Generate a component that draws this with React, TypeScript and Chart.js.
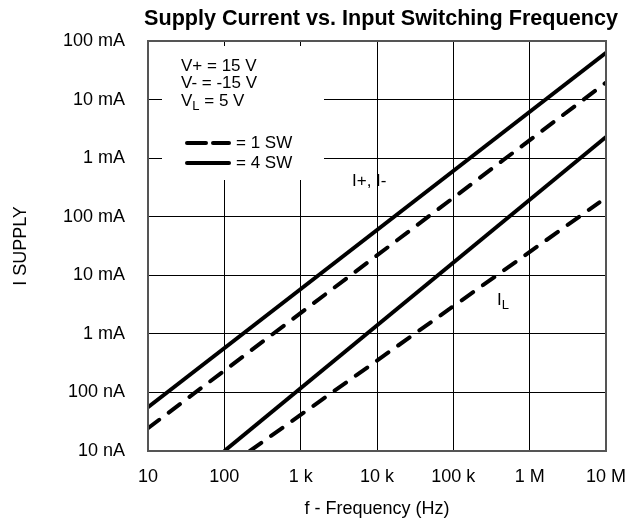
import React, { useEffect, useRef } from 'react';
import { Chart, registerables } from 'chart.js';

Chart.register(...registerables);

const FONT = '"Liberation Sans", Arial, Helvetica, sans-serif';

const chartTitle = 'Supply Current vs. Input Switching Frequency';
const xAxisTitle = 'f - Frequency (Hz)';
const yAxisTitle = 'I SUPPLY';

const freqTicks = [10, 100, 1e3, 1e4, 1e5, 1e6, 1e7];
const freqLabels = ['10', '100', '1 k', '10 k', '100 k', '1 M', '10 M'];
const currentTicks = [1e-8, 1e-7, 1e-6, 1e-5, 1e-4, 1e-3, 1e-2, 1e-1];
const currentLabels = ['10 nA', '100 nA', '1 mA', '10 mA', '100 mA', '1 mA', '10 mA', '100 mA'];

// I+, I- supply current, 4 switches (solid)
const supply4SWFreq = [10, 1e7];
const supply4SWCurrent = [5.6e-8, 6.3e-2];
// I+, I- supply current, 1 switch (dashed)
const supply1SWFreq = [10, 1e7];
const supply1SWCurrent = [2.45e-8, 1.95e-2];
// IL logic current, 4 switches (solid)
const logic4SWFreq = [100, 1e7];
const logic4SWCurrent = [1e-8, 2.3e-3];
// IL logic current, 1 switch (dashed)
const logic1SWFreq = [216, 8.2e6];
const logic1SWCurrent = [1e-8, 1.76e-4];

const legendConditions = ['V+ = 15 V', 'V- = -15 V'];
const legendDashed = '= 1 SW';
const legendSolid = '= 4 SW';
const supplyLabel = 'I+, I-';

const toPoints = (xs: number[], ys: number[]) => xs.map((x, i) => ({ x, y: ys[i] }));

const labelFor = (v: number, ticks: number[], labels: string[]) => {
  const i = ticks.findIndex((t) => Math.abs(Math.log10(t) - Math.log10(v)) < 1e-6);
  return i >= 0 ? labels[i] : '';
};

const annotations = {
  id: 'annotations',
  beforeDatasetsDraw(chart: any) {
    const { ctx } = chart;
    ctx.save();
    ctx.fillStyle = '#fff';
    ctx.fillRect(162, 46, 162, 134);
    ctx.restore();
  },
  afterDraw(chart: any) {
    const { ctx, chartArea } = chart;
    ctx.save();
    // frame
    ctx.strokeStyle = '#555';
    ctx.lineWidth = 2;
    ctx.strokeRect(chartArea.left, chartArea.top, chartArea.right - chartArea.left, chartArea.bottom - chartArea.top);

    // title
    ctx.fillStyle = '#000';
    ctx.font = `bold 21.6px ${FONT}`;
    ctx.textAlign = 'center';
    ctx.textBaseline = 'middle';
    ctx.fillText(chartTitle, 381, 19);

    // legend text
    ctx.font = `17px ${FONT}`;
    ctx.textAlign = 'left';
    ctx.fillText(legendConditions[0], 181, 66);
    ctx.fillText(legendConditions[1], 181, 83);
    ctx.fillText('V', 181, 101);
    const vw = ctx.measureText('V').width;
    ctx.font = `13px ${FONT}`;
    ctx.fillText('L', 181 + vw, 106);
    const lw = ctx.measureText('L').width;
    ctx.font = `17px ${FONT}`;
    ctx.fillText(' = 5 V', 181 + vw + lw, 101);

    // legend lines
    ctx.strokeStyle = '#000';
    ctx.lineWidth = 4;
    ctx.lineCap = 'round';
    ctx.beginPath();
    ctx.moveTo(187, 143);
    ctx.lineTo(206, 143);
    ctx.moveTo(213, 143);
    ctx.lineTo(229, 143);
    ctx.stroke();
    ctx.beginPath();
    ctx.moveTo(187, 163);
    ctx.lineTo(229, 163);
    ctx.stroke();
    ctx.fillText(legendDashed, 236, 143);
    ctx.fillText(legendSolid, 236, 163);

    // curve labels
    ctx.fillText(supplyLabel, 352, 181);
    ctx.fillText('I', 497, 300);
    const iw = ctx.measureText('I').width;
    ctx.font = `13px ${FONT}`;
    ctx.fillText('L', 497 + iw, 305);
    ctx.restore();
  },
};

export default function App() {
  const ref = useRef<HTMLCanvasElement | null>(null);
  useEffect(() => {
    if (!ref.current) return;
    const common = {
      showLine: true,
      pointRadius: 0,
      borderColor: '#000',
      backgroundColor: '#000',
      borderWidth: 4,
      fill: false,
      clip: 0,
      tension: 0,
    };
    const chart = new Chart(ref.current, {
      type: 'line',
      data: {
        datasets: [
          { ...common, label: 'I+ 4 SW', data: toPoints(supply4SWFreq, supply4SWCurrent) },
          { ...common, label: 'I+ 1 SW', data: toPoints(supply1SWFreq, supply1SWCurrent), borderDash: [14, 12], borderCapStyle: 'round' },
          { ...common, label: 'IL 4 SW', data: toPoints(logic4SWFreq, logic4SWCurrent) },
          { ...common, label: 'IL 1 SW', data: toPoints(logic1SWFreq, logic1SWCurrent), borderDash: [14, 12], borderCapStyle: 'round' },
        ] as any,
      },
      options: {
        animation: false,
        responsive: false,
        events: [],
        layout: { padding: { top: 41, right: 19, left: 0, bottom: 0 } },
        plugins: {
          legend: { display: false },
          tooltip: { enabled: false },
          title: { display: false },
        },
        scales: {
          x: {
            type: 'logarithmic',
            min: 10,
            max: 1e7,
            afterBuildTicks: (s: any) => {
              s.ticks = freqTicks.map((v) => ({ value: v }));
            },
            afterFit: (s: any) => {
              s.height = 75;
              s.paddingLeft = 0;
              s.paddingRight = 0;
            },
            grid: { color: '#000', lineWidth: 1, drawTicks: false },
            border: { display: false },
            ticks: {
              autoSkip: false,
              maxRotation: 0,
              padding: 15,
              color: '#000',
              font: { family: FONT, size: 18 },
              callback: (v: any) => labelFor(Number(v), freqTicks, freqLabels),
            },
            title: {
              display: true,
              text: xAxisTitle,
              color: '#000',
              font: { family: FONT, size: 18 },
              padding: { top: 0, bottom: 6 },
            },
          },
          y: {
            type: 'logarithmic',
            min: 1e-8,
            max: 1e-1,
            afterBuildTicks: (s: any) => {
              s.ticks = currentTicks.map((v) => ({ value: v }));
            },
            afterFit: (s: any) => {
              s.width = 148;
              s.paddingTop = 0;
              s.paddingBottom = 0;
            },
            grid: { color: '#000', lineWidth: 1, drawTicks: false },
            border: { display: false },
            ticks: {
              autoSkip: false,
              padding: 23,
              color: '#000',
              font: { family: FONT, size: 18 },
              callback: (v: any) => labelFor(Number(v), currentTicks, currentLabels),
            },
            title: {
              display: true,
              text: yAxisTitle,
              color: '#000',
              font: { family: FONT, size: 18 },
              padding: { top: 10, bottom: 0 },
            },
          },
        },
      } as any,
      plugins: [annotations],
    });
    return () => chart.destroy();
  }, []);
  return (
    <div style={{ position: 'absolute', left: 0, top: 0, width: 625, height: 526 }}>
      <canvas ref={ref} width={625} height={526} style={{ display: 'block', width: 625, height: 526 }} />
    </div>
  );
}
